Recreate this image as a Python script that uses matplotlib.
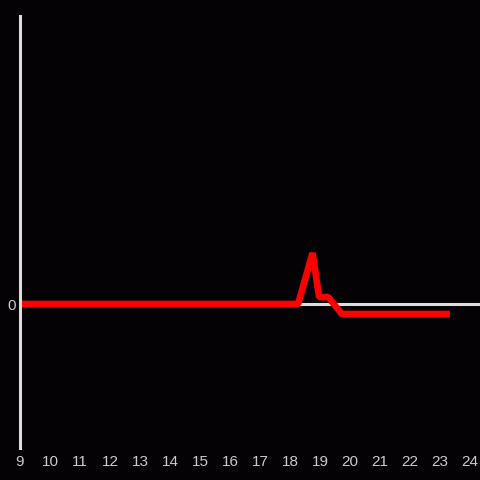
import matplotlib
matplotlib.use("Agg")
import matplotlib.pyplot as plt

# DATA
hours = [9, 18.27, 18.75, 18.97, 19.27, 19.73, 23.33]
values = [0, 0, 5.1, 0.7, 0.7, -1.0, -1.0]
xticks = list(range(9, 25))

bg = '#040205'
fg = '#dddddd'

fig = plt.figure(figsize=(4.8, 4.8), dpi=100, facecolor=bg)
ax = fig.add_axes([20/480, 1-448/480, 1-20/480, 432/480], facecolor=bg)

ax.axhline(0, color=fg, lw=2.2, zorder=1)
ax.plot(hours, values, color='#ff0000', lw=4.8, solid_joinstyle='bevel',
        solid_capstyle='butt', zorder=2)

ax.set_xlim(9, 24.333)
ax.set_ylim(-14.4, 28.8)
ax.set_xticks(xticks)
ax.set_xticklabels([str(t) for t in xticks])
ax.set_yticks([0])
ax.set_yticklabels(['0'])

for s in ['top', 'right', 'bottom']:
    ax.spines[s].set_visible(False)
ax.spines['left'].set_color(fg)
ax.spines['left'].set_linewidth(2.2)

ax.tick_params(length=0, colors='#cccccc', labelsize=11)
ax.tick_params(axis='x', pad=5)
ax.tick_params(axis='y', pad=3)
for lab in ax.get_xticklabels() + ax.get_yticklabels():
    lab.set_family(['Liberation Sans', 'DejaVu Sans'])

fig.savefig('out.png', dpi=100, facecolor=bg)
